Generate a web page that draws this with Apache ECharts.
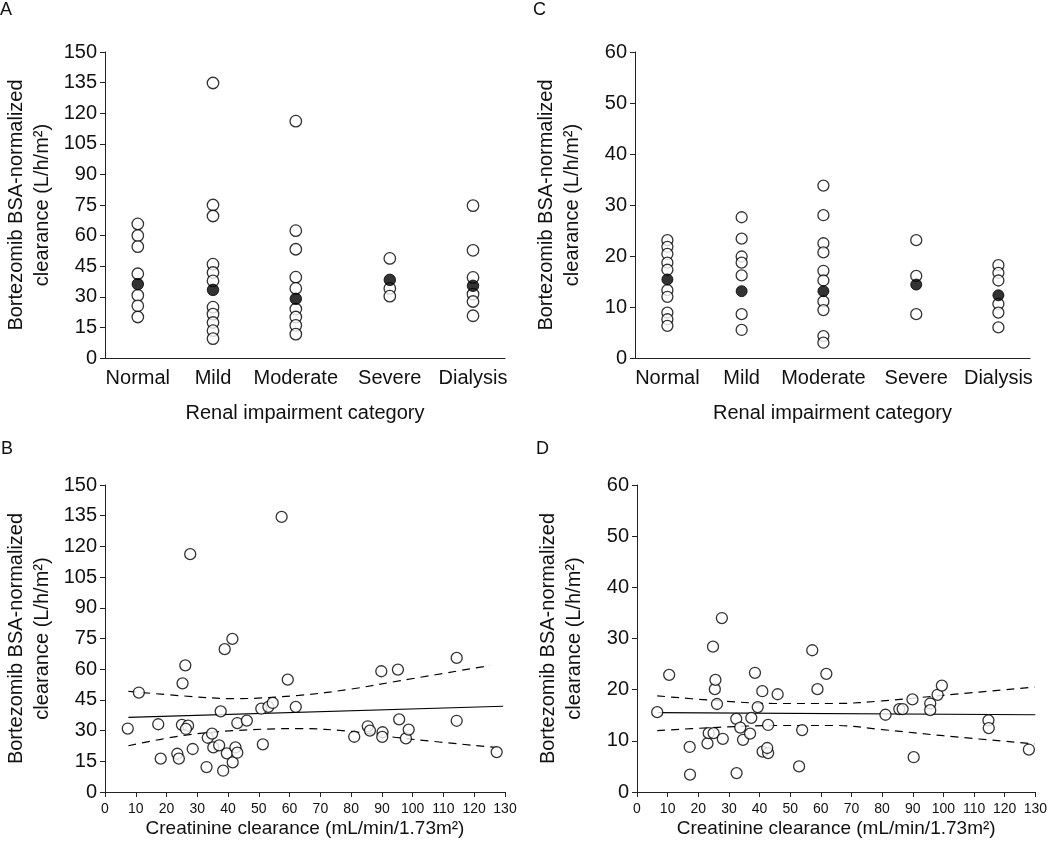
<!DOCTYPE html>
<html>
<head>
<meta charset="utf-8">
<script src="https://cdn.jsdelivr.net/npm/echarts@6/dist/echarts.min.js"></script>
<style>
html,body{margin:0;padding:0;background:#fff;}
#chart{width:1050px;height:854px;}
</style>
</head>
<body>
<div id="chart"></div>
<script>
// ---------- DATA ----------
const categories = ['Normal', 'Mild', 'Moderate', 'Severe', 'Dialysis'];
const yTicksA = [0, 15, 30, 45, 60, 75, 90, 105, 120, 135, 150];
const yTicksC = [0, 10, 20, 30, 40, 50, 60];
const xTicksCrcl = [0, 10, 20, 30, 40, 50, 60, 70, 80, 90, 100, 110, 120, 130];

// Panel A: individual values per category (L/h/m²)
const aNormal   = [65.7, 60.0, 54.6, 41.3, 30.7, 25.6, 20.1];
const aMild     = [134.8, 75.0, 69.6, 46.0, 41.9, 37.8, 24.9, 21.5, 17.4, 13.4, 9.5];
const aModerate = [116.1, 62.4, 53.3, 39.6, 34.1, 24.0, 20.1, 16.0, 11.7];
const aSevere   = [48.8, 34.1, 30.3];
const aDialysis = [74.7, 52.8, 39.5, 31.3, 27.7, 20.7];
const aMean     = [36.2, 33.4, 29.0, 38.3, 35.4];

// Panel C: individual values per category
const cNormal   = [23.1, 21.8, 20.4, 18.7, 17.3, 13.3, 12.0, 8.9, 7.6, 6.3];
const cMild     = [27.6, 23.4, 19.9, 18.7, 16.2, 8.6, 5.5];
const cModerate = [33.8, 28.0, 22.5, 20.7, 17.1, 15.2, 11.1, 9.4, 4.3, 3.0];
const cSevere   = [23.1, 16.1, 8.6];
const cDialysis = [18.2, 16.7, 15.2, 10.6, 8.9, 6.0];
const cMean     = [15.4, 13.1, 13.1, 14.4, 12.3];

// Panel B: creatinine clearance vs clearance
const bCrcl  = [7.4, 11.0, 17.3, 18.1, 23.5, 24.0, 25.2, 26.1, 25.0, 27.0, 26.3, 27.7, 28.5, 33.0, 33.4, 34.8, 35.2, 37.1, 37.6, 38.4, 38.9, 39.6, 41.4, 41.5, 42.4, 43.0, 43.0, 46.1, 50.8, 51.3, 53.1, 54.5, 57.4, 59.4, 62.0, 81.0, 85.4, 86.1, 89.8, 90.2, 90.1, 95.2, 95.6, 97.8, 98.7, 114.3, 114.3, 127.3];
const bClear = [31.0, 48.6, 33.1, 16.3, 18.7, 16.3, 53.1, 61.9, 32.8, 32.4, 30.8, 116.2, 21.0, 12.2, 26.5, 28.5, 21.8, 22.8, 39.4, 10.4, 69.8, 18.9, 74.8, 14.5, 21.8, 19.2, 33.7, 34.9, 40.7, 23.3, 41.6, 43.5, 134.4, 54.9, 41.6, 27.0, 32.1, 30.0, 59.0, 29.2, 26.9, 59.8, 35.5, 26.2, 30.5, 65.5, 34.8, 19.5];
const bFitX = [7.6, 129.4];
const bFitY = [36.5, 41.9];
const bUpperX = [7.6, 25, 42, 63, 80, 96, 125.1];
const bUpperY = [49.2, 47.0, 45.6, 47.2, 50.3, 54.4, 61.8];
const bLowerX = [7.6, 25, 42, 63, 80, 96, 128.2];
const bLowerY = [22.6, 27.5, 30.0, 31.0, 29.6, 26.4, 21.6];

// Panel D
const dCrcl  = [6.6, 10.5, 17.2, 17.3, 23.0, 23.4, 25.0, 24.8, 25.4, 25.6, 26.1, 27.7, 28.0, 32.4, 32.5, 33.7, 34.6, 36.9, 37.3, 38.5, 39.4, 40.9, 41.0, 42.8, 42.5, 42.8, 45.9, 52.9, 53.9, 57.2, 58.9, 61.8, 81.1, 85.6, 86.7, 89.9, 90.3, 95.7, 95.7, 98.1, 99.5, 114.7, 114.8, 127.9];
const dClear = [15.6, 22.9, 8.8, 3.4, 9.5, 11.5, 11.5, 28.4, 20.1, 21.9, 17.2, 34.0, 10.4, 14.3, 3.7, 12.6, 10.2, 11.4, 14.5, 23.3, 16.6, 19.7, 7.9, 7.6, 8.6, 13.1, 19.1, 5.0, 12.1, 27.7, 20.1, 23.1, 15.1, 16.2, 16.2, 18.1, 6.8, 17.3, 16.0, 19.0, 20.8, 14.0, 12.5, 8.3];
const dFitX = [6.9, 130];
const dFitY = [15.5, 15.1];
const dUpperX = [6.6, 25, 45, 65, 80, 100, 129.8];
const dUpperY = [18.8, 17.9, 17.3, 17.3, 17.8, 18.9, 20.5];
const dLowerX = [6.6, 25, 45, 65, 80, 100, 129.8];
const dLowerY = [12.0, 12.6, 13.0, 13.0, 12.2, 11.0, 9.4];

// ---------- LAYOUT / BUILD ----------
// slot of each category along the (0..5) category axis, as laid out in the original figure
const CAT_SLOT = [0.41, 1.35, 2.385, 3.56, 4.6];
const FONT = '"Liberation Sans", Arial, Helvetica, sans-serif';
const TXT = '#111';
const AXC = '#222';
const yName = 'Bortezomib BSA-normalized\nclearance (L/h/m\u00B2)';

function zip(xs, ys) { return xs.map((x, i) => [x, ys[i]]); }
function catPoints(groups) {
  const out = [];
  groups.forEach((arr, ci) => arr.forEach(v => out.push([CAT_SLOT[ci], v])));
  return out;
}

function yAxis(gi, max, interval) {
  return {
    type: 'value', gridIndex: gi, min: 0, max: max, interval: interval,
    name: yName, nameLocation: 'middle', nameGap: 50,
    nameTextStyle: { fontFamily: FONT, fontSize: 20, color: TXT, lineHeight: 26 },
    axisLine: { show: true, lineStyle: { color: AXC, width: 1 } },
    axisTick: { show: true, length: 5, lineStyle: { color: AXC } },
    axisLabel: { fontFamily: FONT, fontSize: 20, color: TXT, margin: 8 },
    splitLine: { show: false }
  };
}
function catXAxis(gi) {
  return {
    type: 'value', gridIndex: gi, min: 0, max: categories.length,
    name: 'Renal impairment category', nameLocation: 'middle', nameGap: 45,
    nameTextStyle: { fontFamily: FONT, fontSize: 20, color: TXT },
    axisLine: { show: true, lineStyle: { color: AXC, width: 1 } },
    axisTick: { show: false },
    axisLabel: {
      fontFamily: FONT, fontSize: 20, color: TXT, margin: 10,
      customValues: CAT_SLOT,
      formatter: function (v) {
        let best = 0;
        CAT_SLOT.forEach((s, i) => { if (Math.abs(s - v) < Math.abs(CAT_SLOT[best] - v)) best = i; });
        return categories[best];
      }
    },
    splitLine: { show: false }
  };
}
function valXAxis(gi) {
  return {
    type: 'value', gridIndex: gi, min: xTicksCrcl[0], max: xTicksCrcl[xTicksCrcl.length - 1], interval: 10,
    name: 'Creatinine clearance (mL/min/1.73m\u00B2)', nameLocation: 'middle', nameGap: 27,
    nameTextStyle: { fontFamily: FONT, fontSize: 19, color: TXT },
    axisLine: { show: true, lineStyle: { color: AXC, width: 1 } },
    axisTick: { show: true, length: 5, lineStyle: { color: AXC } },
    axisLabel: { fontFamily: FONT, fontSize: 14, color: TXT, margin: 10 },
    splitLine: { show: false }
  };
}
const openStyle = { color: '#fff', borderColor: '#000', borderWidth: 1.3 };
const fillStyle = { color: '#000', borderColor: '#000', borderWidth: 1 };

function scatter(xi, yi, data, size, style, z) {
  return { type: 'scatter', xAxisIndex: xi, yAxisIndex: yi, data: data, symbol: 'circle',
    symbolSize: size, itemStyle: style, z: z || 3, silent: true };
}
function line(xi, yi, data, dashed) {
  return { type: 'line', xAxisIndex: xi, yAxisIndex: yi, data: data, symbol: 'none',
    smooth: dashed ? 0.35 : false, z: 2, silent: true,
    lineStyle: { color: '#000', width: 1.2, type: dashed ? [8, 6] : 'solid' } };
}

const option = {
  backgroundColor: '#fff',
  animation: false,
  grid: [
    { left: 105, top: 52, width: 400, height: 306 },
    { left: 635, top: 52, width: 395, height: 306 },
    { left: 105, top: 485, width: 400, height: 307 },
    { left: 637, top: 485, width: 400, height: 307 }
  ],
  xAxis: [catXAxis(0), catXAxis(1), valXAxis(2), valXAxis(3)],
  yAxis: [
    yAxis(0, yTicksA[yTicksA.length - 1], yTicksA[1] - yTicksA[0]),
    yAxis(1, yTicksC[yTicksC.length - 1], yTicksC[1] - yTicksC[0]),
    yAxis(2, yTicksA[yTicksA.length - 1], yTicksA[1] - yTicksA[0]),
    yAxis(3, yTicksC[yTicksC.length - 1], yTicksC[1] - yTicksC[0])
  ],
  graphic: [
    { type: 'text', left: 0, top: 1, style: { text: 'A', font: '18px ' + FONT, fill: TXT } },
    { type: 'text', left: 533, top: 1, style: { text: 'C', font: '18px ' + FONT, fill: TXT } },
    { type: 'text', left: 1, top: 440, style: { text: 'B', font: '18px ' + FONT, fill: TXT } },
    { type: 'text', left: 536, top: 440, style: { text: 'D', font: '18px ' + FONT, fill: TXT } }
  ],
  series: [
    scatter(0, 0, catPoints([aNormal, aMild, aModerate, aSevere, aDialysis]), 11.5, openStyle),
    scatter(0, 0, aMean.map((v, i) => [CAT_SLOT[i], v]), 11.5, fillStyle, 4),
    scatter(1, 1, catPoints([cNormal, cMild, cModerate, cSevere, cDialysis]), 11, openStyle),
    scatter(1, 1, cMean.map((v, i) => [CAT_SLOT[i], v]), 11, fillStyle, 4),
    line(2, 2, zip(bFitX, bFitY), false),
    line(2, 2, zip(bUpperX, bUpperY), true),
    line(2, 2, zip(bLowerX, bLowerY), true),
    scatter(2, 2, zip(bCrcl, bClear), 11, openStyle),
    line(3, 3, zip(dFitX, dFitY), false),
    line(3, 3, zip(dUpperX, dUpperY), true),
    line(3, 3, zip(dLowerX, dLowerY), true),
    scatter(3, 3, zip(dCrcl, dClear), 11, openStyle)
  ]
};

const chart = echarts.init(document.getElementById('chart'), null, { renderer: 'canvas' });
chart.setOption(option);
</script>
</body>
</html>
